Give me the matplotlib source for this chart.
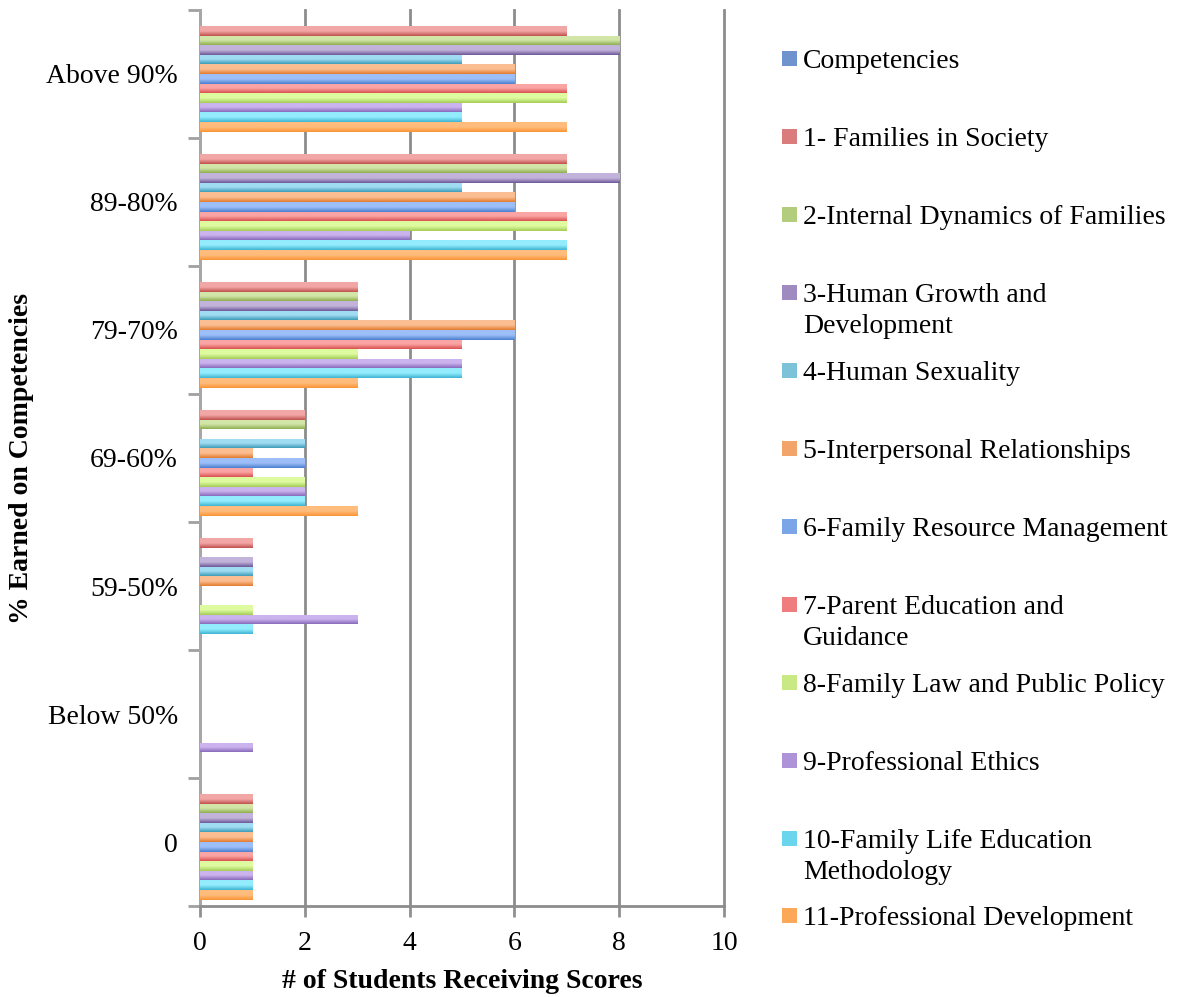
import matplotlib
matplotlib.use('Agg')
import matplotlib.pyplot as plt
import numpy as np
from matplotlib.patches import Rectangle
from matplotlib.colors import LinearSegmentedColormap

categories = ["0", "Below 50%", "59-50%", "69-60%", "79-70%", "89-80%", "Above 90%"]
series_names = ["Competencies", "1- Families in Society", "2-Internal Dynamics of Families",
                "3-Human Growth and\nDevelopment", "4-Human Sexuality",
                "5-Interpersonal Relationships", "6-Family Resource Management",
                "7-Parent Education and\nGuidance", "8-Family Law and Public Policy",
                "9-Professional Ethics", "10-Family Life Education\nMethodology",
                "11-Professional Development"]

# values per category (bottom to top, same order as categories)
competencies = [0, 0, 0, 0, 0, 0, 0]
s1 = [1, 0, 1, 2, 3, 7, 7]
s2 = [1, 0, 0, 2, 3, 7, 8]
s3 = [1, 0, 1, 0, 3, 8, 8]
s4 = [1, 0, 1, 2, 3, 5, 5]
s5 = [1, 0, 1, 1, 6, 6, 6]
s6 = [1, 0, 0, 2, 6, 6, 6]
s7 = [1, 0, 0, 1, 5, 7, 7]
s8 = [1, 0, 1, 2, 3, 7, 7]
s9 = [1, 1, 3, 2, 5, 4, 5]
s10 = [1, 0, 1, 2, 5, 7, 5]
s11 = [1, 0, 0, 3, 3, 7, 7]
series_values = [competencies, s1, s2, s3, s4, s5, s6, s7, s8, s9, s10, s11]

colors = ["#6F93CC", "#D97C7B", "#B3CD7E", "#A08BC0", "#7CC3DA", "#F2A46A",
          "#7CA5E8", "#EF7D7D", "#C9E985", "#AE93D8", "#6AD5EC", "#FDA858"]
grad_top = ["#A5C0EC", "#F2A7A6", "#D2E6A8", "#C2B3DB", "#A0DCF2", "#FBBE92",
            "#9DBEF8", "#FBA4A4", "#DEFBA0", "#CBB3EE", "#93ECFC", "#FFBC7C"]
grad_bot = ["#3E6AAE", "#C0504D", "#8EAE4F", "#6E5797", "#3E9CB7", "#E37A2E",
            "#4A7FCF", "#D9514F", "#A3CC55", "#8769BB", "#3DB4D2", "#FB9435"]

FONT = "Liberation Serif"
W, H = 1178, 997
fig = plt.figure(figsize=(W / 100, H / 100), dpi=100)
ax = fig.add_axes([200 / W, 1 - 906 / H, (724 - 200) / W, (906 - 10) / H])

n = len(series_values)
h = 0.9 / n
y = np.arange(len(categories))
grad = np.linspace(0, 1, 64).reshape(-1, 1)
for k, (vals, c) in enumerate(zip(series_values, colors)):
    offs = 0.45 - h / 2 - k * h
    bars = ax.barh(y + offs, vals, height=h, color=c, linewidth=0, zorder=3)
    cmap = LinearSegmentedColormap.from_list(f"g{k}", [grad_top[k], grad_top[k], grad_bot[k]])
    for p in bars.patches:
        if p.get_width() <= 0:
            continue
        x0, y0 = p.get_x(), p.get_y()
        x1, y1 = x0 + p.get_width(), y0 + p.get_height()
        im = ax.imshow(grad, extent=[x0, x1, y0, y1], aspect='auto', cmap=cmap,
                       origin='upper', zorder=3.5, interpolation='bilinear')
        im.set_clip_path(p)

ax.set_xlim(0, 10)
ax.set_ylim(-0.5, len(categories) - 0.5)
ax.set_xticks(np.arange(0, 11, 2))
ax.set_xticklabels([str(v) for v in range(0, 11, 2)], fontfamily=FONT, fontsize=20)
ax.set_yticks(y)
ax.set_yticklabels(categories, fontfamily=FONT, fontsize=20)
ax.set_yticks(np.arange(-0.5, len(categories), 1.0), minor=True)
ax.tick_params(axis='y', which='major', length=0, pad=16)
ax.tick_params(axis='y', which='minor', length=9, width=2, color="#a0a0a0", direction='out')
ax.tick_params(axis='x', which='major', length=8, width=2, color="#909090", direction='out', pad=10)

ax.grid(axis='x', color="#8c8c8c", linewidth=2, zorder=0)
for gl in ax.get_xgridlines():
    gl.set_clip_on(False)
for s in ['top', 'right']:
    ax.spines[s].set_visible(False)
ax.spines['left'].set_color("#a8a8a8")
ax.spines['left'].set_linewidth(2)
ax.spines['bottom'].set_color("#8c8c8c")
ax.spines['bottom'].set_linewidth(2)

ax.set_xlabel("# of Students Receiving Scores", fontfamily=FONT, fontsize=20,
              fontweight='bold', labelpad=9)
fig.text(22 / W, 1 - 458 / H, "% Earned on Competencies", rotation=90, ha='center',
         va='center', fontfamily=FONT, fontsize=20, fontweight='bold')

# legend
for i, (name, c) in enumerate(zip(series_names, colors)):
    yc = 59 + 77.9 * i
    fig.add_artist(Rectangle((782 / W, 1 - (yc + 7.5) / H), 15 / W, 15 / H,
                             transform=fig.transFigure, facecolor=c, linewidth=0))
    if "\n" not in name:
        fig.text(803 / W, 1 - yc / H, name, ha='left', va='center_baseline',
                 fontfamily=FONT, fontsize=20)
    else:
        first, second = name.split("\n")
        fig.text(803 / W, 1 - yc / H, first, ha='left', va='center_baseline',
                 fontfamily=FONT, fontsize=20)
        fig.text(803 / W, 1 - (yc + 31) / H, second, ha='left', va='center_baseline',
                 fontfamily=FONT, fontsize=20)

fig.savefig("out.png", dpi=100, facecolor="white")
